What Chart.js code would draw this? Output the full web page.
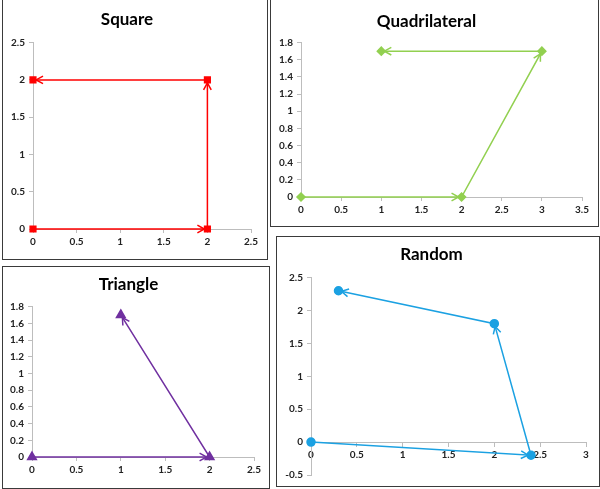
<!DOCTYPE html>
<html>
<head>
<meta charset="utf-8">
<script src="https://cdn.jsdelivr.net/npm/chart.js@4.4.1/dist/chart.umd.min.js"></script>
<style>
  html,body{margin:0;padding:0;background:#fff;}
  body{width:600px;height:489px;position:relative;overflow:hidden;}
  .box{position:absolute;border:1.5px solid #3a3a3a;box-sizing:border-box;background:#fff;}
  canvas{position:absolute;}
</style>
</head>
<body>
<div class="box" style="left:2px;top:-1px;width:266px;height:261px"></div>
<div class="box" style="left:270px;top:-1px;width:329px;height:228px"></div>
<div class="box" style="left:2px;top:266px;width:268px;height:223px"></div>
<div class="box" style="left:276px;top:236px;width:324px;height:251px"></div>

<canvas id="sq" style="left:3px;top:0px" width="264" height="259"></canvas>
<canvas id="qd" style="left:271px;top:1px" width="326" height="225"></canvas>
<canvas id="tr" style="left:3px;top:268px" width="265" height="219"></canvas>
<canvas id="rd" style="left:277px;top:237px" width="321" height="248"></canvas>

<script>
// data, one array per shape (walked in order)
var squareX = [0, 2, 2, 0];
var squareY = [0, 0, 2, 2];
var quadX = [0, 2, 3, 1];
var quadY = [0, 0, 1.7, 1.7];
var triX = [0, 2, 1];
var triY = [0, 0, 1.7];
var randX = [0, 2.4, 2, 0.3];
var randY = [0, -0.2, 1.8, 2.3];

function pts(xs, ys){
  var out = [];
  for (var i=0;i<xs.length;i++) out.push({x:xs[i], y:ys[i]});
  return out;
}

// open arrow head at the end of every segment
var arrows = {
  id:"arrows",
  afterDatasetsDraw:function(chart){
    var ctx = chart.ctx;
    chart.data.datasets.forEach(function(ds, i){
      var pts = chart.getDatasetMeta(i).data;
      ctx.save();
      ctx.strokeStyle = ds.borderColor;
      ctx.lineWidth = 1.5;
      for (var j=1;j<pts.length;j++){
        var a = pts[j-1], b = pts[j];
        var ang = Math.atan2(b.y-a.y, b.x-a.x);
        var tx = b.x - Math.cos(ang)*3, ty = b.y - Math.sin(ang)*3;
        var L = 8, w = 0.5;
        ctx.beginPath();
        ctx.moveTo(tx - L*Math.cos(ang-w), ty - L*Math.sin(ang-w));
        ctx.lineTo(tx, ty);
        ctx.lineTo(tx - L*Math.cos(ang+w), ty - L*Math.sin(ang+w));
        ctx.stroke();
      }
      ctx.restore();
    });
  }
};

var tickFont = {family:"Lato", size:10, weight:"bold"};
var axisGrey = "#bdbdbd";
function fmt(v){ return String(+Number(v).toFixed(2)); }

function make(id, o){
  var xScale = {
    type:"linear", min:o.xmin, max:o.xmax,
    ticks:{stepSize:o.xstep, color:"#222", font:tickFont, padding:3, maxRotation:0, callback:fmt},
    grid:{drawOnChartArea:false, drawTicks:true, tickLength:4, color:axisGrey},
    border:{color:axisGrey}
  };
  if (o.xAtZero) xScale.position = {y:0};
  else xScale.afterFit = function(s){ s.height = o.xh; };
  return new Chart(document.getElementById(id), {
    type:"scatter",
    data:{datasets:[{
      data:pts(o.xs, o.ys), showLine:true, clip:false,
      borderColor:o.color, backgroundColor:o.color, borderWidth:1.5,
      pointStyle:o.marker, pointRadius:o.r, pointHoverRadius:o.r
    }]},
    options:{
      responsive:false, animation:false, events:[],
      layout:{padding:{left:0, right:o.pr, top:0, bottom:o.pb||0}},
      plugins:{
        legend:{display:false}, tooltip:{enabled:false},
        title:{display:true, text:o.title, color:"#000",
          font:{family:"Lato", size:17, weight:"bold", lineHeight:1.2},
          padding:{top:o.tt, bottom:o.tb}}
      },
      scales:{
        x:xScale,
        y:{type:"linear", min:o.ymin, max:o.ymax,
          ticks:{stepSize:o.ystep, color:"#222", font:tickFont, padding:4, callback:fmt},
          grid:{drawOnChartArea:false, drawTicks:true, tickLength:4, color:axisGrey},
          border:{color:axisGrey},
          afterFit:function(s){ s.width = o.yw; }}
      }
    },
    plugins:[arrows]
  });
}

make("sq", {title:"Square", xs:squareX, ys:squareY, color:"#ff0000", marker:"rect", r:4,
  xmin:0, xmax:2.5, xstep:0.5, ymin:0, ymax:2.5, ystep:0.5,
  yw:30, xh:30, pr:16, tt:9.8, tb:12.4});
make("qd", {title:"Quadrilateral", xs:quadX, ys:quadY, color:"#92d050", marker:"rectRot", r:4,
  xmin:0, xmax:3.5, xstep:0.5, ymin:0, ymax:1.8, ystep:0.2,
  yw:30, xh:29, pr:15, tt:10.8, tb:10.4});
make("tr", {title:"Triangle", xs:triX, ys:triY, color:"#7030a0", marker:"triangle", r:5,
  xmin:0, xmax:2.5, xstep:0.5, ymin:0, ymax:1.8, ystep:0.2,
  yw:29, xh:30, pr:14, tt:6.8, tb:11.4});
make("rd", {title:"Random", xs:randX, ys:randY, color:"#1ba1e2", marker:"circle", r:4,
  xmin:0, xmax:3, xstep:0.5, ymin:-0.5, ymax:2.5, ystep:0.5, xAtZero:true,
  yw:34, pr:12, pb:9, tt:7.8, tb:12.4});
</script>
</body>
</html>
